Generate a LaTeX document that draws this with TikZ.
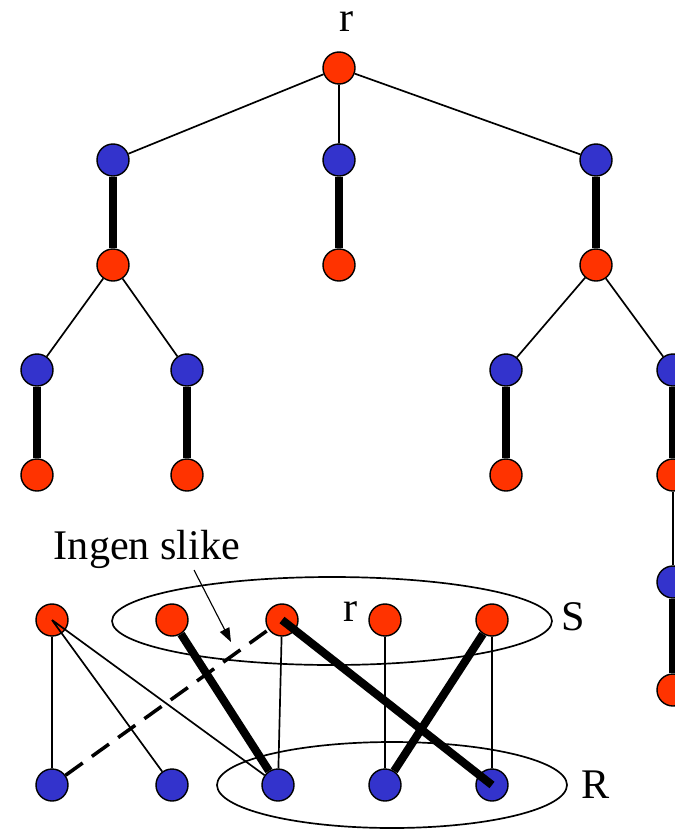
\documentclass[tikz,border=0pt]{standalone}
\usepackage{fontspec}
\setmainfont{Liberation Serif}
\usetikzlibrary{arrows.meta}
\definecolor{hot}{HTML}{FF3300}
\definecolor{cold}{HTML}{3333CC}

\begin{document}
\begin{tikzpicture}[x=0.025cm,y=-0.025cm,
  every node/.style={font=\fontsize{30}{34}\selectfont},
  rnode/.style={circle,draw,line width=1pt,fill=hot,minimum size=0.8cm,inner sep=0pt},
  bnode/.style={rnode,fill=cold},
  edge/.style={line width=1.2pt},
  match/.style={line width=5.8pt}]
\useasboundingbox (0,0) rectangle (675,829);
\clip (0,0) rectangle (675,829);
% the alternating tree
\node at (347,22) {r};
\node[rnode] (r) at (339,68) {};
\node[bnode] (u1) at (113,160) {};
\node[bnode] (u2) at (339,160) {};
\node[bnode] (u3) at (596,160) {};
\node[rnode] (v1) at (113,265) {};
\node[rnode] (v2) at (339,265) {};
\node[rnode] (v3) at (596,265) {};
\node[bnode] (w1) at (37,370) {};
\node[bnode] (w2) at (187,370) {};
\node[bnode] (w3) at (506,370) {};
\node[bnode] (w4) at (673,370) {};
\node[rnode] (x1) at (37,475) {};
\node[rnode] (x2) at (187,475) {};
\node[rnode] (x3) at (506,475) {};
\node[rnode] (x4) at (673,475) {};
\node[bnode] (y4) at (673,582) {};
\node[rnode] (z4) at (673,690) {};
\draw[edge] (r) -- (u1) (r) -- (u2) (r) -- (u3);
\draw[match] (u1) -- (v1) (u2) -- (v2) (u3) -- (v3);
\draw[edge] (v1) -- (w1) (v1) -- (w2) (v3) -- (w3) (v3) -- (w4);
\draw[match] (w1) -- (x1) (w2) -- (x2) (w3) -- (x3) (w4) -- (x4);
\draw[edge] (x4) -- (y4);
\draw[match] (y4) -- (z4);
% the two sets S and R
\draw[line width=1.2pt] (332,621) ellipse (220 and 44);
\draw[line width=1.2pt] (392,785) ellipse (175 and 43);
\node at (573,617) {S};
\node at (596,785) {R};
\node at (351,612) {r};
\node[rnode] (s1) at (52,620) {};
\node[rnode] (s2) at (172,620) {};
\node[rnode] (s3) at (282,620) {};
\node[rnode] (s4) at (385,620) {};
\node[rnode] (s5) at (492,620) {};
\node[bnode] (t1) at (52,785) {};
\node[bnode] (t2) at (172,785) {};
\node[bnode] (t3) at (278,785) {};
\node[bnode] (t4) at (385,785) {};
\node[bnode] (t5) at (492,785) {};
\draw[edge] (s1) -- (t1) (s1.center) -- (t2) (s1.center) -- (t3) (s3) -- (t3)
  (s4) -- (t4) (s5) -- (t5);
\draw[match] (s2) -- (t3) (s3.center) -- (t5.center) (s5) -- (t4);
\draw[line width=2.5pt,dashed,dash pattern=on 15pt off 8pt] (t1) -- (s3);
% pointer to the missing edge
\node (ingen) at (147,549) {Ingen slike};
\coordinate (a0) at (194,570);
\coordinate (a1) at (231,642);
\draw[line width=0.8pt,-{Triangle[length=3.5mm,width=2.6mm]}] (a0) -- (a1);
\end{tikzpicture}
\end{document}
